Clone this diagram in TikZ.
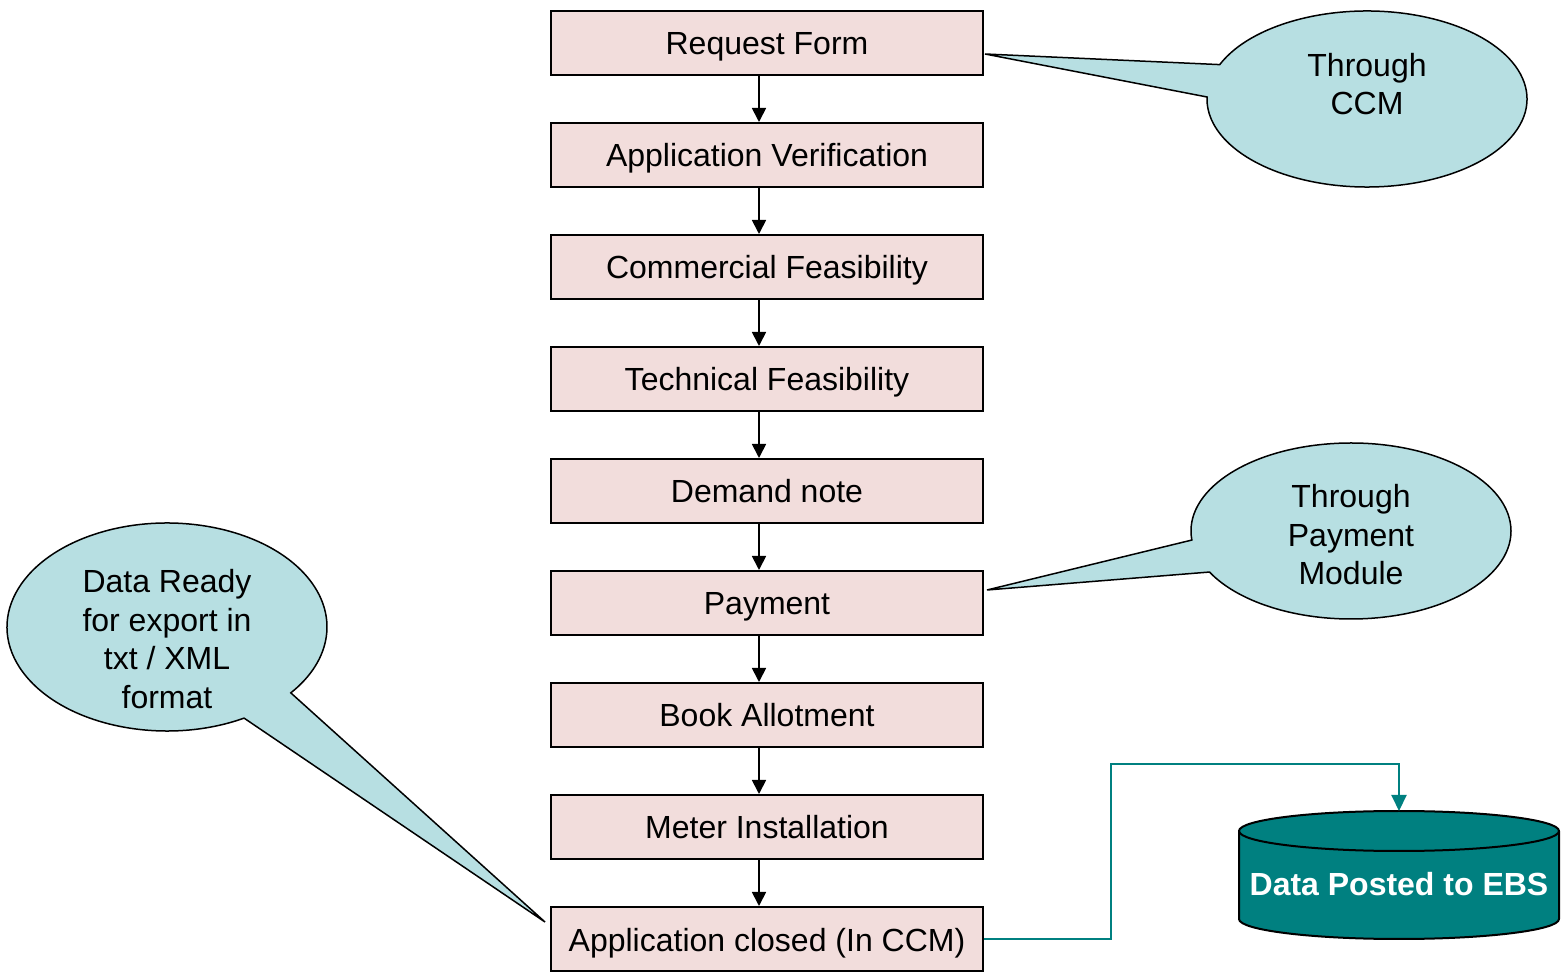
\documentclass[tikz,border=0pt]{standalone}
\usepackage{fontspec}
\setmainfont{Liberation Sans}
\usetikzlibrary{arrows.meta,calc}
\definecolor{boxfill}{RGB}{242,221,220}
\definecolor{callfill}{RGB}{183,223,226}
\definecolor{tealc}{RGB}{0,128,128}
\begin{document}
\begin{tikzpicture}[x=0.5pt,y=-0.5pt,
  stepbox/.style={draw=black, line width=1pt, fill=boxfill, minimum width=216pt, minimum height=32pt, inner sep=0pt, text height=12pt, text depth=0pt, font=\fontsize{16}{19.25}\selectfont},
  flow/.style={line width=0.9pt, -{Triangle[length=7pt,width=7pt]}},
  callout/.style={draw=black, line width=0.75pt, fill=callfill, line join=miter},
  calltext/.style={align=center, font=\fontsize{16}{19.25}\selectfont, inner sep=0pt},
  tealarr/.style={draw=tealc, line width=1pt, -{Triangle[length=8pt,width=7.5pt]}},
  dbshape/.style={draw=black, line width=1pt, fill=tealc},
]
\useasboundingbox (0,0) rectangle (1565,972);

% flow boxes
\node[stepbox] (b1) at (767,43)  {Request Form};
\node[stepbox] (b2) at (767,155) {Application Verification};
\node[stepbox] (b3) at (767,267) {Commercial Feasibility};
\node[stepbox] (b4) at (767,379) {Technical Feasibility};
\node[stepbox] (b5) at (767,491) {Demand note};
\node[stepbox] (b6) at (767,603) {Payment};
\node[stepbox] (b7) at (767,715) {Book Allotment};
\node[stepbox] (b8) at (767,827) {Meter Installation};
\node[stepbox] (b9) at (767,939) {Application closed (In CCM)};

\foreach \a/\b in {b1/b2,b2/b3,b3/b4,b4/b5,b5/b6,b6/b7,b7/b8,b8/b9}{
  \draw[flow] ([xshift=-4pt]\a.south) -- ([xshift=-4pt]\b.north);
}

% callout 1
\coordinate (c1) at (1367,99);
\coordinate (tip1) at (985,54);
\path[callout] ($(c1)+(203:160 and 88)$) arc[start angle=203, end angle=541.3, x radius=160, y radius=88] -- (tip1) -- cycle;
\node[calltext] (t1) at (1367,84) {Through\\CCM};

% callout 2
\coordinate (c2) at (1351,531);
\coordinate (tip2) at (987,590);
\path[callout] ($(c2)+(174.1:160 and 88)$) arc[start angle=174.1, end angle=512.2, x radius=160, y radius=88] -- (tip2) -- cycle;
\node[calltext] (t2) at (1351,535) {Through\\Payment\\Module};

% callout 3
\coordinate (c3) at (167,627);
\coordinate (tip3) at (545,922);
\path[callout] ($(c3)+(61.2:160 and 104)$) arc[start angle=61.2, end angle=399.3, x radius=160, y radius=104] -- (tip3) -- cycle;
\node[calltext] (t3) at (167,639) {Data Ready\\for export in\\txt / XML\\format};

% database cylinder
\path[dbshape] (1239,831) -- (1239,919) arc[start angle=180, end angle=0, x radius=160, y radius=20] -- (1559,831) arc[start angle=0, end angle=-180, x radius=160, y radius=20] -- cycle;
\draw[line width=1pt] (1239,831) arc[start angle=180, end angle=0, x radius=160, y radius=20];
\coordinate (dbtop) at (1399,811);
\node[font=\fontsize{16}{19.25}\selectfont\bfseries, text=white, inner sep=0pt, text height=12pt, text depth=0pt] (db) at (1399,884) {Data Posted to EBS};

% teal connector
\draw[tealarr] (b9.east) -| (1111,764) -| (dbtop);
\end{tikzpicture}
\end{document}
